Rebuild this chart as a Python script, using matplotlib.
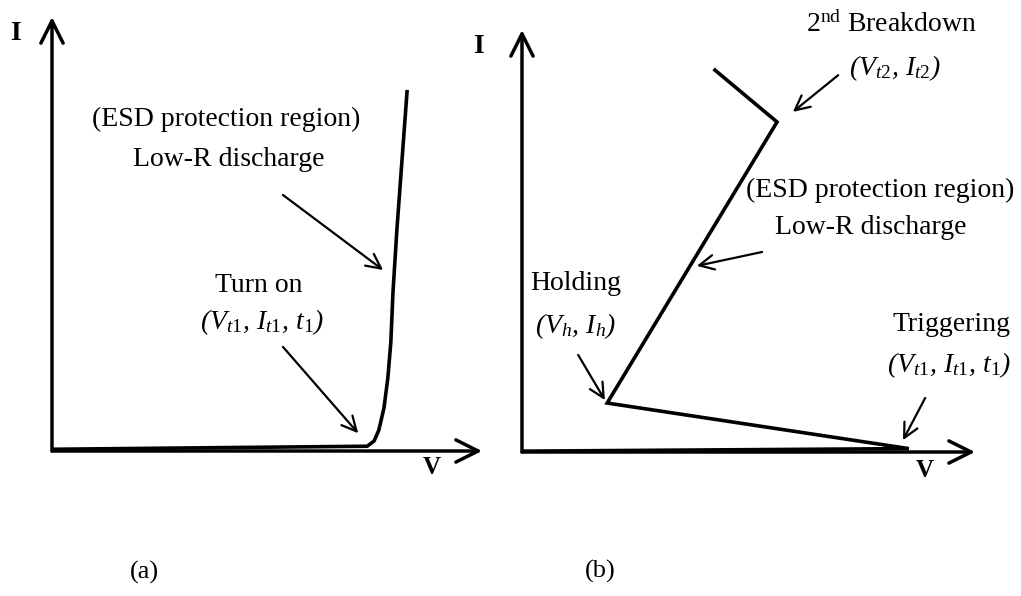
import matplotlib
matplotlib.use("Agg")
import matplotlib.pyplot as plt

plt.rcParams['font.family'] = ['Liberation Serif', 'DejaVu Serif']
plt.rcParams['mathtext.fontset'] = 'custom'
plt.rcParams['mathtext.rm'] = 'Liberation Serif'
plt.rcParams['mathtext.it'] = 'Liberation Serif:italic'
plt.rcParams['mathtext.bf'] = 'Liberation Serif:bold'

# (a) diode-like turn-on curve (V, I in arbitrary units)
diode_v = [0.0, 7.33, 7.49, 7.60, 7.72, 7.81, 7.88, 7.93, 8.02, 8.14, 8.26]
diode_i = [0.04, 0.11, 0.23, 0.48, 0.99, 1.68, 2.51, 3.66, 5.09, 6.71, 8.32]

# (b) snapback curve: origin -> trigger -> holding -> 2nd breakdown -> past it
snap_v = [0.0, 8.54, 1.88, 5.63, 4.26]
snap_i = [0.02, 0.08, 1.16, 7.82, 9.05]

FS = 20
line_w = 2.6

fig = plt.figure(figsize=(10.21, 5.96), dpi=100)
ax_a = fig.add_axes([52 / 1021, 145 / 596, 430 / 1021, 434 / 596])
ax_b = fig.add_axes([522 / 1021, 144 / 596, 453 / 1021, 422 / 596])


def draw_frame(ax):
    ax.set_xlim(0, 10)
    ax.set_ylim(0, 10)
    ax.axis('off')
    big = dict(arrowstyle='->,head_length=0.8,head_width=0.4', lw=2.5,
               color='black', mutation_scale=20, shrinkA=0, shrinkB=0)
    ax.annotate('', xy=(1, 0), xytext=(0, 0), xycoords='axes fraction', arrowprops=big)
    ax.annotate('', xy=(0, 1), xytext=(0, 0), xycoords='axes fraction', arrowprops=big)


def pointer(ax, start, tip):
    ax.annotate('', xy=tip, xytext=start,
                arrowprops=dict(arrowstyle='->,head_length=0.7,head_width=0.35',
                                lw=1.6, color='black', mutation_scale=15,
                                shrinkA=0, shrinkB=0))


# ---- (a) ----
draw_frame(ax_a)
ax_a.plot(diode_v, diode_i, color='black', lw=line_w, solid_capstyle='butt')
ax_a.text(-0.86, 9.63, 'I', fontsize=FS, fontweight='bold', ha='center', va='center')
ax_a.text(8.84, -0.37, 'V', fontsize=FS - 2, fontweight='bold', ha='center', va='center')
ax_a.text(4.05, 7.63, '(ESD protection region)', fontsize=FS, ha='center', va='center')
ax_a.text(4.12, 6.71, 'Low-R discharge', fontsize=FS, ha='center', va='center')
pointer(ax_a, (5.37, 5.90), (7.70, 4.17))
ax_a.text(4.81, 3.82, 'Turn on', fontsize=FS, ha='center', va='center')
ax_a.text(4.88, 2.97, r'(V$_{t1}$, I$_{t1}$, t$_{1}$)', fontsize=FS,
          fontstyle='italic', ha='center', va='center')
pointer(ax_a, (5.37, 2.40), (7.12, 0.41))
ax_a.text(2.16, -2.79, '(a)', fontsize=FS - 1, ha='center', va='center')

# ---- (b) ----
draw_frame(ax_b)
ax_b.plot(snap_v, snap_i, color='black', lw=line_w, solid_joinstyle='miter')
ax_b.text(-0.97, 9.60, 'I', fontsize=FS, fontweight='bold', ha='center', va='center')
ax_b.text(8.90, -0.43, 'V', fontsize=FS - 2, fontweight='bold', ha='center', va='center')
ax_b.text(8.15, 10.12, r'2$^{\rm nd}$ Breakdown', fontsize=FS, ha='center', va='center')
ax_b.text(8.23, 9.10, r'(V$_{t2}$, I$_{t2}$)', fontsize=FS,
          fontstyle='italic', ha='center', va='center')
pointer(ax_b, (6.98, 8.93), (5.98, 8.06))
ax_b.text(7.90, 6.21, '(ESD protection region)', fontsize=FS, ha='center', va='center')
ax_b.text(7.70, 5.33, 'Low-R discharge', fontsize=FS, ha='center', va='center')
pointer(ax_b, (5.30, 4.74), (3.86, 4.41))
ax_b.text(1.19, 4.00, 'Holding', fontsize=FS, ha='center', va='center')
ax_b.text(1.17, 2.99, r'(V$_{h}$, I$_{h}$)', fontsize=FS,
          fontstyle='italic', ha='center', va='center')
pointer(ax_b, (1.24, 2.30), (1.83, 1.23))
ax_b.text(9.49, 3.01, 'Triggering', fontsize=FS, ha='center', va='center')
ax_b.text(9.43, 2.06, r'(V$_{t1}$, I$_{t1}$, t$_{1}$)', fontsize=FS,
          fontstyle='italic', ha='center', va='center')
pointer(ax_b, (8.90, 1.28), (8.41, 0.28))
ax_b.text(1.72, -2.84, '(b)', fontsize=FS - 1, ha='center', va='center')

fig.savefig('out.png', dpi=100)
